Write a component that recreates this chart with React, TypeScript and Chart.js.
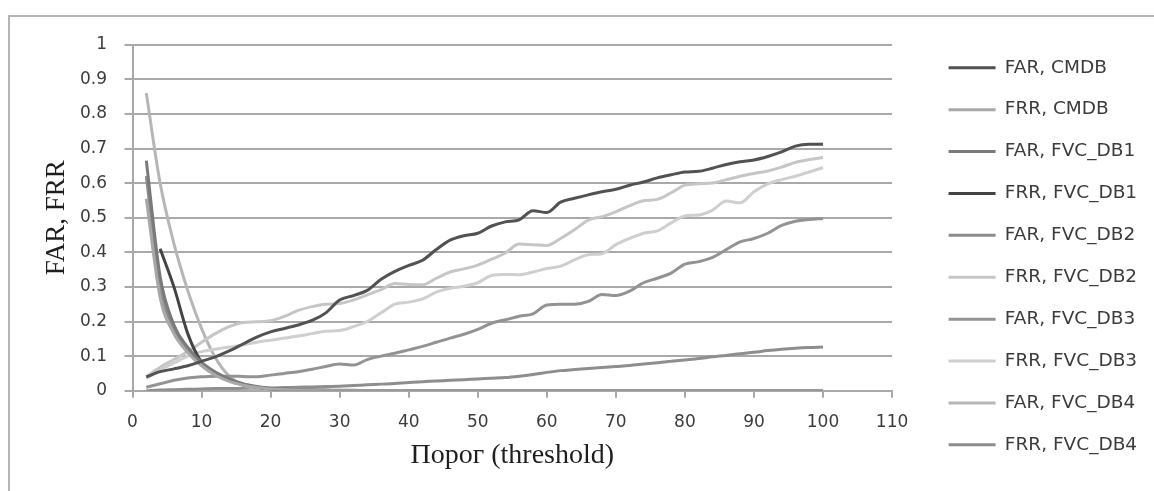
import React, { useEffect, useRef } from 'react';
import { Chart, registerables } from 'chart.js';

Chart.register(...registerables);

const thresholds = [2, 4, 6, 8, 10, 12, 14, 16, 18, 20, 22, 24, 26, 28, 30, 32, 34, 36, 38, 40, 42, 44, 46, 48, 50, 52, 54, 56, 58, 60, 62, 64, 66, 68, 70, 72, 74, 76, 78, 80, 82, 84, 86, 88, 90, 92, 94, 96, 98, 100];

const farCmdb = [0.040, 0.055, 0.063, 0.072, 0.085, 0.098, 0.115, 0.135, 0.155, 0.170, 0.180, 0.190, 0.203, 0.225, 0.262, 0.275, 0.290, 0.322, 0.345, 0.362, 0.377, 0.408, 0.435, 0.448, 0.455, 0.476, 0.488, 0.494, 0.520, 0.515, 0.545, 0.556, 0.566, 0.575, 0.582, 0.594, 0.603, 0.615, 0.624, 0.632, 0.634, 0.643, 0.654, 0.662, 0.667, 0.677, 0.690, 0.707, 0.712, 0.712];
const frrCmdb = [0.555, 0.27, 0.165, 0.11, 0.072, 0.045, 0.027, 0.016, 0.009, 0.005, 0.003, 0.002, 0.001, 0, 0, 0, 0, 0, 0, 0, 0, 0, 0, 0, 0, 0, 0, 0, 0, 0, 0, 0, 0, 0, 0, 0, 0, 0, 0, 0, 0, 0, 0, 0, 0, 0, 0, 0, 0, 0];
const farFvcDb1 = [0.665, 0.33, 0.19, 0.125, 0.082, 0.054, 0.034, 0.02, 0.012, 0.007, 0.005, 0.003, 0.002, 0.002, 0.001, 0.001, 0, 0, 0, 0, 0, 0, 0, 0, 0, 0, 0, 0, 0, 0, 0, 0, 0, 0, 0, 0, 0, 0, 0, 0, 0, 0, 0, 0, 0, 0, 0, 0, 0, 0];
const frrFvcDb1 = [null, 0.41, 0.3, 0.165, 0.082, 0.048, 0.03, 0.018, 0.01, 0.005, 0.003, 0.002, 0.001, 0, 0, 0, 0, 0, 0, 0, 0, 0, 0, 0, 0, 0, 0, 0, 0, 0, 0, 0, 0, 0, 0, 0, 0, 0, 0, 0, 0, 0, 0, 0, 0, 0, 0, 0, 0, 0];
const farFvcDb2 = [0.62, 0.3, 0.18, 0.118, 0.078, 0.05, 0.03, 0.018, 0.01, 0.006, 0.004, 0.003, 0.002, 0.001, 0, 0, 0, 0, 0, 0, 0, 0, 0, 0, 0, 0, 0, 0, 0, 0, 0, 0, 0, 0, 0, 0, 0, 0, 0, 0, 0, 0, 0, 0, 0, 0, 0, 0, 0, 0];
const frrFvcDb2 = [0.04, 0.068, 0.09, 0.113, 0.14, 0.165, 0.185, 0.197, 0.199, 0.202, 0.215, 0.232, 0.243, 0.25, 0.252, 0.262, 0.277, 0.292, 0.31, 0.307, 0.306, 0.325, 0.343, 0.352, 0.363, 0.38, 0.398, 0.424, 0.422, 0.42, 0.44, 0.465, 0.493, 0.503, 0.517, 0.535, 0.549, 0.553, 0.572, 0.594, 0.598, 0.6, 0.61, 0.62, 0.628, 0.635, 0.646, 0.66, 0.668, 0.674];
const farFvcDb3 = [0.01, 0.02, 0.03, 0.037, 0.04, 0.042, 0.042, 0.041, 0.04, 0.045, 0.05, 0.055, 0.062, 0.07, 0.077, 0.074, 0.09, 0.1, 0.108, 0.118, 0.128, 0.14, 0.152, 0.163, 0.177, 0.195, 0.205, 0.215, 0.222, 0.248, 0.25, 0.25, 0.258, 0.278, 0.275, 0.288, 0.312, 0.325, 0.34, 0.366, 0.373, 0.385, 0.408, 0.43, 0.44, 0.455, 0.478, 0.49, 0.495, 0.498];
const frrFvcDb3 = [0.035, 0.06, 0.08, 0.1, 0.113, 0.12, 0.126, 0.132, 0.14, 0.146, 0.152, 0.158, 0.165, 0.172, 0.174, 0.185, 0.2, 0.225, 0.25, 0.256, 0.265, 0.285, 0.296, 0.302, 0.312, 0.333, 0.336, 0.335, 0.343, 0.353, 0.36, 0.378, 0.393, 0.396, 0.422, 0.44, 0.455, 0.462, 0.485, 0.505, 0.508, 0.522, 0.548, 0.543, 0.575, 0.598, 0.61, 0.62, 0.632, 0.645];
const farFvcDb4 = [0.86, 0.6, 0.425, 0.29, 0.18, 0.095, 0.042, 0.016, 0.006, 0.003, 0.002, 0.001, 0, 0, 0, 0, 0, 0, 0, 0, 0, 0, 0, 0, 0, 0, 0, 0, 0, 0, 0, 0, 0, 0, 0, 0, 0, 0, 0, 0, 0, 0, 0, 0, 0, 0, 0, 0, 0, 0];
const frrFvcDb4 = [0, 0.002, 0.003, 0.004, 0.005, 0.006, 0.006, 0.007, 0.008, 0.008, 0.009, 0.01, 0.011, 0.012, 0.013, 0.015, 0.017, 0.019, 0.021, 0.024, 0.026, 0.028, 0.03, 0.032, 0.034, 0.036, 0.038, 0.042, 0.047, 0.053, 0.058, 0.061, 0.064, 0.067, 0.07, 0.073, 0.077, 0.081, 0.085, 0.089, 0.093, 0.098, 0.102, 0.107, 0.111, 0.116, 0.12, 0.123, 0.125, 0.126];

const seriesNames = ['FAR, CMDB', 'FRR, CMDB', 'FAR, FVC_DB1', 'FRR, FVC_DB1', 'FAR, FVC_DB2', 'FRR, FVC_DB2', 'FAR, FVC_DB3', 'FRR, FVC_DB3', 'FAR, FVC_DB4', 'FRR, FVC_DB4'];
const seriesValues = [farCmdb, frrCmdb, farFvcDb1, frrFvcDb1, farFvcDb2, frrFvcDb2, farFvcDb3, frrFvcDb3, farFvcDb4, frrFvcDb4];
const seriesColors = ['#525252', '#a8a8a8', '#7a7a7a', '#444444', '#8c8c8c', '#c6c6c6', '#939393', '#cfcfcf', '#b6b6b6', '#8e8e8e'];

const xTitle = 'Порог (threshold)';
const yTitle = 'FAR, FRR';

export default function App() {
  const ref = useRef<HTMLCanvasElement>(null);

  useEffect(() => {
    const canvas = ref.current;
    if (!canvas) return;
    const datasets = seriesNames.map((name, i) => ({
      label: name,
      data: seriesValues[i].map((v, j) => ({ x: thresholds[j], y: v })),
      borderColor: seriesColors[i],
      backgroundColor: seriesColors[i],
      borderWidth: 3,
      showLine: true,
      pointRadius: 0,
      pointHoverRadius: 0,
      cubicInterpolationMode: 'monotone' as const,
      spanGaps: false,
    }));
    const tickFont = { family: 'DejaVu Sans', size: 17 };
    const chart = new Chart(canvas, {
      type: 'scatter',
      data: { datasets },
      options: {
        animation: false,
        responsive: false,
        layout: { padding: { left: 0, top: 5, right: 6.9, bottom: 0.4 } },
        plugins: {
          tooltip: { enabled: false },
          legend: {
            position: 'right',
            align: 'center',
            maxWidth: 300,
            labels: {
              usePointStyle: true,
              pointStyle: 'line',
              pointStyleWidth: 47,
              padding: 23.4,
              color: '#3c3c3c',
              font: { family: 'DejaVu Sans', size: 18.5 },
            },
          },
        },
        scales: {
          x: {
            type: 'linear',
            position: 'bottom',
            min: 0,
            max: 110,
            ticks: { stepSize: 10, font: tickFont, color: '#3c3c3c', padding: 15, maxRotation: 0 },
            grid: { drawOnChartArea: false, drawTicks: true, tickLength: 7, color: '#a9a9a9', lineWidth: 2 },
            border: { color: '#a9a9a9', width: 2 },
            title: { display: true, text: xTitle, font: { family: 'Liberation Serif', size: 28 }, color: '#1e1e1e', padding: { top: 0, bottom: 17.8 } },
            afterFit: (s: any) => { s.height = 99.9; },
          },
          xTop: {
            type: 'linear',
            position: 'top',
            display: true,
            ticks: { display: false },
            grid: { display: false },
            border: { display: false },
            afterFit: (s: any) => { s.height = 17.5; },
          },
          y: {
            type: 'linear',
            position: 'left',
            min: 0,
            max: 1,
            ticks: {
              stepSize: 0.1,
              font: tickFont,
              color: '#3c3c3c',
              padding: 17.5,
              callback: (v: any) => String(Number(Number(v).toFixed(1))),
            },
            grid: { color: '#a9a9a9', lineWidth: 2, tickLength: 8, drawTicks: true },
            border: { color: '#a9a9a9', width: 2 },
            title: { display: true, text: yTitle, font: { family: 'Liberation Serif', size: 27 }, color: '#1e1e1e', padding: { top: 30.5, bottom: 0 } },
            afterFit: (s: any) => { s.width = 122.5; },
          },
          yGap: {
            type: 'linear',
            position: 'right',
            display: true,
            ticks: { display: false },
            grid: { display: false },
            border: { display: false },
            afterFit: (s: any) => { s.width = 33.1; },
          },
        },
      },
    });
    return () => chart.destroy();
  }, []);

  return (
    <div
      style={{
        position: 'fixed',
        left: 8,
        top: 15,
        width: 1146,
        height: 476,
        borderTop: '2px solid #b4b4b4',
        borderLeft: '2px solid #b4b4b4',
        background: '#ffffff',
        overflow: 'hidden',
      }}
    >
      <canvas ref={ref} width={1144} height={474} style={{ display: 'block' }} />
    </div>
  );
}
